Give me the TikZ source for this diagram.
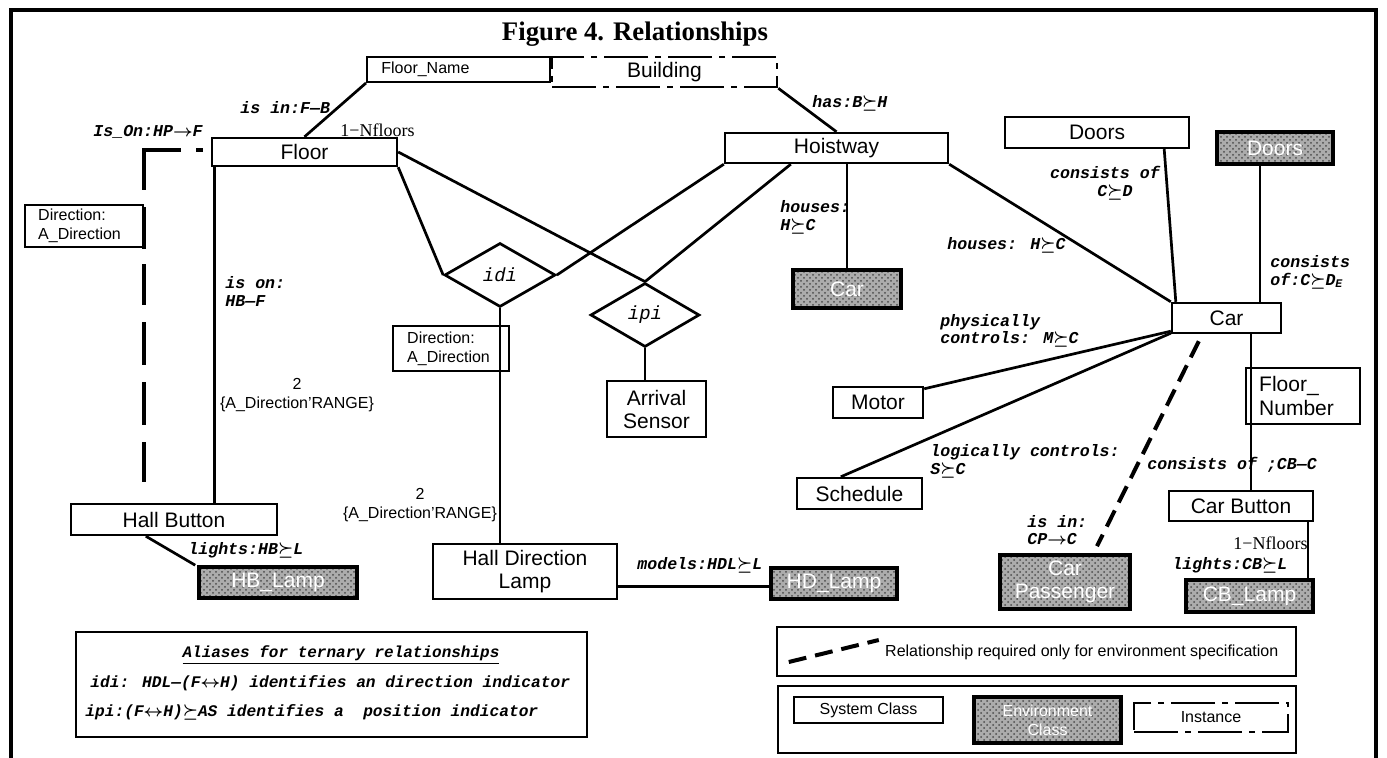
\documentclass[tikz,border=0pt]{standalone}
\usepackage{fontspec}
\setmainfont{Liberation Serif}
\setsansfont{Liberation Sans}
\newfontfamily\lblfamily{Liberation Mono}
\usetikzlibrary{calc,patterns,shapes.geometric,backgrounds}
\newcommand{\Sq}{{\boldmath$\succeq$}}
\newcommand{\Ra}{{\boldmath$\rightarrow$}}
\newcommand{\LRa}{{\boldmath$\leftrightarrow$}}
% box from pixel corners: style, name, x1, y1, x2, y2, text
\newcommand{\mkbx}[7]{\node[#1, minimum width={(#5-#3)*0.5pt}, minimum height={(#6-#4)*0.5pt}] (#2) at ({(#3+#5)/2},{(#4+#6)/2}) {#7};}
\begin{document}
\begin{tikzpicture}[x=0.5pt,y=-0.5pt,
  conn/.style={line width=1.35pt},
  fineconn/.style={line width=1pt},
  bigtxt/.style={font=\sffamily\fontsize{10.5}{11.5}\selectfont},
  sysbox/.style={draw, line width=1.2pt, fill=white, inner sep=0pt, align=center, bigtxt},
  envbox/.style={draw, line width=1.8pt, inner sep=0pt, align=center, bigtxt,
     preaction={fill=gray!65}, pattern=crosshatch dots, pattern color=black!70, text=white},
  instbox/.style={draw, line width=1.3pt, dash pattern=on 22pt off 3.5pt on 3pt off 3.5pt,
     fill=white, inner sep=0pt, align=center, bigtxt},
  lbl/.style={font=\lblfamily\fontsize{8.3}{8.8}\selectfont\bfseries\itshape, inner sep=0pt, align=left},
  stxt/.style={font=\sffamily\fontsize{8}{9.5}\selectfont, inner sep=0pt, align=left},
  smallbox/.style={font=\sffamily\fontsize{8}{9.5}\selectfont},
  rtxt/.style={font=\rmfamily\fontsize{9}{10}\selectfont, inner sep=0pt},
  rel/.style={draw, line width=1.35pt, diamond, inner sep=0pt, fill=white,
     font=\lblfamily\fontsize{9.5}{10}\selectfont\itshape},
  envdash/.style={line width=2pt, dash pattern=on 9pt off 4.5pt},
]
\useasboundingbox (0,0) rectangle (1387,758);

% frame and title
\draw[line width=1.6pt] (11,758) -- (11,10) -- (1376,10) -- (1376,758);
\node[font=\rmfamily\bfseries\fontsize{13.4}{15}\selectfont, inner sep=0pt] (title) at (635,34) {Figure 4. Relationships};

% ---------- class boxes ----------
\mkbx{sysbox, line width=1pt}{fname}{367}{57}{550}{82}{}
\node[stxt, anchor=west] (fnamet) at ($(fname.west)+(15,0)$) {Floor\_Name};
\mkbx{instbox}{building}{552}{57}{777}{87}{Building}
\mkbx{sysbox}{floor}{212}{138}{397}{166}{Floor}
\mkbx{sysbox}{hoist}{725}{133}{948}{163}{Hoistway}
\mkbx{sysbox}{doorsS}{1005}{117}{1189}{148}{Doors}
\mkbx{envbox}{doorsE}{1217}{132}{1333}{164}{Doors}
\mkbx{sysbox}{dirL}{25}{205}{143}{247}{}
\mkbx{sysbox}{hallbtn}{71}{504}{277}{535}{Hall Button}
\mkbx{envbox}{hblamp}{199}{567}{357}{598}{HB\_Lamp}
\mkbx{sysbox}{dirM}{393}{326}{509}{371}{}
\mkbx{sysbox}{hdl}{433}{544}{617}{599}{Hall Direction\\Lamp}
\mkbx{envbox}{hdlamp}{771}{568}{897}{599}{HD\_Lamp}
\mkbx{sysbox}{arrival}{607}{381}{706}{437}{Arrival\\Sensor}
\mkbx{envbox}{carE}{793}{270}{901}{308}{Car}
\mkbx{sysbox}{motor}{833}{387}{923}{418}{Motor}
\mkbx{sysbox}{sched}{797}{478}{922}{509}{Schedule}
\mkbx{sysbox}{car}{1172}{303}{1281}{333}{Car}
\mkbx{sysbox}{fnum}{1246}{368}{1360}{424}{}
\mkbx{sysbox}{carbtn}{1169}{491}{1313}{521}{Car Button}
\mkbx{envbox}{cblamp}{1186}{580}{1313}{612}{CB\_Lamp}
\mkbx{envbox}{carpass}{1000}{555}{1130}{609}{Car\\Passenger}

% texts inside left-aligned boxes
\node[stxt, anchor=west] (dirLt) at ($(dirL.west)+(14,0)$) {Direction:\\A\_Direction};
\node[stxt, anchor=west] (dirMt) at ($(dirM.west)+(15,0)$) {Direction:\\A\_Direction};
\node[inner sep=0pt, align=left, anchor=west, font=\sffamily\fontsize{10.5}{12}\selectfont] (fnumt) at ($(fnum.west)+(14,0)$) {Floor\_\\Number};

% relationship diamonds
\node[rel, minimum width=55.5pt, minimum height=32pt] (idi) at (500,275) {idi};
\node[rel, minimum width=54.5pt, minimum height=32pt] (ipi) at (645,315) {ipi};

% ---------- legend / alias boxes ----------
\mkbx{sysbox}{aliases}{76}{632}{587}{737}{}
\node[lbl, font=\lblfamily\fontsize{8}{8.8}\selectfont\bfseries\itshape] (alT) at (341,655) {\underline{Aliases for ternary relationships}};
\node[lbl, anchor=west, font=\lblfamily\fontsize{8.1}{8.8}\selectfont\bfseries\itshape] (alA) at (90,683) {idi: HDL—(F\LRa H) identifies an direction indicator};
\node[lbl, anchor=west, font=\lblfamily\fontsize{8.1}{8.8}\selectfont\bfseries\itshape] (alB) at (85,712) {ipi:(F\LRa H)\Sq AS identifies a~ position indicator};

\mkbx{sysbox}{legA}{777}{627}{1296}{676}{}
\coordinate (lgA) at ($(legA.west)+(13,10.5)$);
\coordinate (lgB) at ($(legA.west)+(103,-11.5)$);
\draw[envdash] (lgA) -- (lgB);
\node[stxt, anchor=west] (legAt) at ($(legA.west)+(109,0.5)$) {Relationship required only for environment specification};

\mkbx{sysbox}{legB}{778}{686}{1296}{753}{}
\mkbx{sysbox, smallbox}{sysclass}{794}{697}{943}{723}{System Class}
\mkbx{envbox, smallbox}{envclass}{974}{697}{1121}{743}{Environment\\Class}
\mkbx{instbox, smallbox}{instance}{1134}{703}{1288}{732}{Instance}

% ---------- connectors (behind the boxes) ----------
\begin{scope}[on background layer]
\fill[white] (0,0) rectangle (1387,758);
\draw[conn] (floor.north) -- (fname.south west);
\draw[conn] (building.south east) -- (hoist.north);
\coordinate (fl1) at ($(floor.south west)+(4,0)$);
\draw[conn] (fl1) -- (fl1 |- hallbtn.north);
\draw[conn] (floor.south east) -- (idi.west);
\draw[conn] (floor.east) -- (ipi.north);
\draw[conn] (idi.east) -- (hoist.south west);
\draw[conn] (ipi.north) -- ($(hoist.south west)+(67,0)$);
\coordinate (hx) at (hoist.south -| carE.north);
\draw[conn] (hx) -- (carE.north);
\draw[conn] (hoist.south east) -- (car.north west);
\draw[conn] ($(doorsS.south east)+(-26,0)$) -- ($(car.north west)+(5,0)$);
\coordinate (de) at ($(doorsE.south)+(-15,0)$);
\draw[conn] (de) -- (de |- car.north);
\draw[conn] ($(car.south west)+(0,-3)$) -- ($(motor.north east)+(0,3)$);
\draw[conn] ($(car.south west)+(0,-1)$) -- ($(sched.north west)+(45,0)$);
\draw[envdash] ($(car.south west)+(28,7)$) -- ($(carpass.north)+(32,-7)$);
\coordinate (cl) at ($(carbtn.south east)+(-6,-4)$);
\draw[fineconn] (cl) -- (cl |- cblamp.north);
\draw[conn] ($(hallbtn.south west)+(76,0)$) -- ($(hblamp.north west)+(-2,0)$);
\draw[conn] (ipi.south) -- (ipi.south |- arrival.north);
\coordinate (hr) at ($(hdl.south east)+(0,-14)$);
\draw[conn] (hr) -- (hr -| hdlamp.west);
% Is_On environment relationship
\coordinate (ionA) at ($(floor.west)+(-8,-2)$);
\coordinate (ionB) at (ionA -| dirL.east);
\coordinate (ionC) at ($(dirL.east |- hallbtn.north)+(0,-21)$);
\draw[line width=2pt, dash pattern=on 3.5pt off 7.5pt on 38.5pt off 8.5pt on 21pt off 7.5pt on 20.5pt off 8.5pt on 21.5pt off 8.5pt on 21.5pt off 8.5pt on 21.5pt off 20pt]
  (ionA) -- (ionB) -- (ionC);
\end{scope}

% connectors drawn across boxes
\coordinate (cb) at ($(car.south)+(24,0)$);
\draw[fineconn] (cb) -- (cb |- carbtn.north);
\draw[conn] (idi.south) -- (idi.south |- hdl.north);

% ---------- labels ----------
\node[lbl, anchor=west] (lIsOn) at (93,132) {Is\_On:HP\Ra F};
\node[lbl, anchor=west] (lIsIn) at (240,108) {is in:F—B};
\node[rtxt, anchor=west] (lNf1) at (340,130) {1−Nfloors};
\node[lbl, anchor=west] (lHas) at (812,103) {has:B\Sq H};
\node[lbl, anchor=west] (lHouses1) at (780,217.5) {houses:\\H\Sq C};
\node[lbl, align=center] (lConsD) at (1105,183) {consists of\\\hspace*{1.2em}C\Sq D};
\node[lbl, anchor=west] (lHouses2) at (947,245) {houses: H\Sq C};
\node[lbl, anchor=west] (lConsDE) at (1270,272.5) {consists\\of:C\Sq D\textsubscript{E}};
\node[lbl, anchor=west] (lPhys) at (940,331) {physically\\controls: M\Sq C};
\node[lbl, anchor=west] (lLog) at (930,461.5) {logically controls:\\S\Sq C};
\node[lbl, anchor=west] (lIsIn2) at (1027,530) {is in:\\CP\Ra C};
\node[lbl, anchor=west] (lConsCB) at (1147,465) {consists of ;CB—C};
\node[rtxt, anchor=west] (lNf2) at (1233,543) {1−Nfloors};
\node[lbl, anchor=west] (lLightsCB) at (1172,565) {lights:CB\Sq L};
\node[lbl, anchor=west] (lLightsHB) at (188,550) {lights:HB\Sq L};
\node[lbl, anchor=west] (lModels) at (637,565) {models:HDL\Sq L};
\node[lbl, anchor=west] (lIsOn2) at (225,291.5) {is on:\\HB—F};
\node[stxt, align=center] (lRange1) at (297,395) {2\\\{A\_Direction'RANGE\}};
\node[stxt, align=center] (lRange2) at (420,505) {2\\\{A\_Direction'RANGE\}};
\end{tikzpicture}
\end{document}
